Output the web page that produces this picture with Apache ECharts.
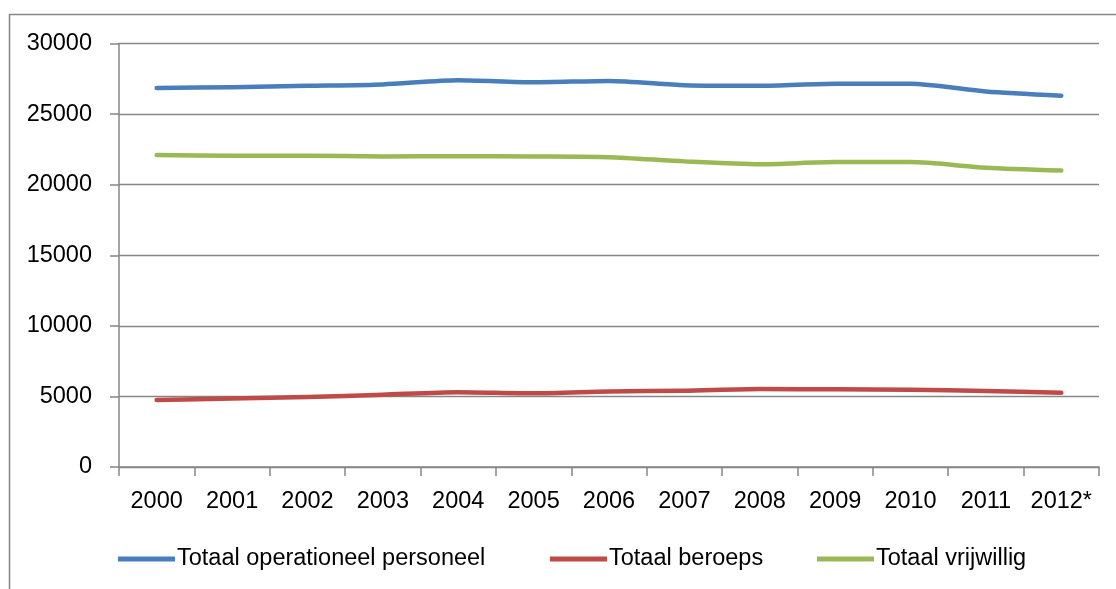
<!DOCTYPE html>
<html>
<head>
<meta charset="utf-8">
<script src="https://cdn.jsdelivr.net/npm/echarts@6/dist/echarts.min.js"></script>
<style>
html,body{margin:0;padding:0;background:#fff;}
#c{width:1116px;height:589px;}
</style>
</head>
<body>
<div id="c"></div>
<script>
const categories = ['2000','2001','2002','2003','2004','2005','2006','2007','2008','2009','2010','2011','2012*'];
const operationeel = [26850, 26900, 27000, 27100, 27400, 27250, 27350, 27050, 27000, 27150, 27150, 26600, 26300];
const beroeps = [4750, 4850, 4950, 5120, 5300, 5220, 5350, 5400, 5520, 5500, 5470, 5380, 5260];
const vrijwillig = [22100, 22050, 22050, 22000, 22020, 22000, 21950, 21650, 21450, 21600, 21600, 21200, 21000];
const seriesNames = ['Totaal operationeel personeel', 'Totaal beroeps', 'Totaal vrijwillig'];
const yTicks = [0, 5000, 10000, 15000, 20000, 25000, 30000];

const FONT = "'Liberation Sans', Arial, sans-serif";
const FS = 23.5;
const AX = '#868686';
const chart = echarts.init(document.getElementById('c'), null, {renderer: 'canvas'});
function line(name, data, color) {
  return {
    name, type: 'line', data, smooth: 0.25, symbol: 'none',
    lineStyle: {color, width: 4.5, cap: 'round', join: 'round'},
    itemStyle: {color}
  };
}
const legendLefts = [113, 545, 812];
chart.setOption({
  animation: false,
  backgroundColor: '#fff',
  graphic: [{
    type: 'rect', shape: {x: 9.5, y: 14.5, width: 1130, height: 600},
    style: {fill: 'none', stroke: AX, lineWidth: 1.5}, silent: true, z: -1
  }],
  grid: {left: 119, right: 17, top: 43.5, bottom: 122, containLabel: false},
  xAxis: {
    type: 'category', data: categories, boundaryGap: true,
    axisLine: {lineStyle: {color: AX, width: 1.5}},
    axisTick: {show: true, length: 9, lineStyle: {color: AX, width: 1.5}},
    axisLabel: {color: '#000', fontFamily: FONT, fontSize: FS, margin: 23, interval: 0}
  },
  yAxis: {
    type: 'value', min: yTicks[0], max: yTicks[yTicks.length - 1], interval: 5000,
    axisLine: {show: true, lineStyle: {color: AX, width: 1.5}},
    axisTick: {show: true, length: 9, inside: false, lineStyle: {color: AX, width: 1.5}},
    splitLine: {lineStyle: {color: AX, width: 1.3}},
    axisLabel: {color: '#000', fontFamily: FONT, fontSize: FS, margin: 27, formatter: v => String(v)}
  },
  legend: seriesNames.map((n, i) => ({
    left: legendLefts[i], top: 542,
    itemWidth: 57, itemHeight: 5,
    icon: 'rect',
    textStyle: {color: '#000', fontFamily: FONT, fontSize: FS, padding: [0, 0, 0, -3]},
    data: [n]
  })),
  series: [
    line(seriesNames[0], operationeel, '#4A7EBB'),
    line(seriesNames[1], beroeps, '#BE4B48'),
    line(seriesNames[2], vrijwillig, '#98B954')
  ]
});
</script>
</body>
</html>
